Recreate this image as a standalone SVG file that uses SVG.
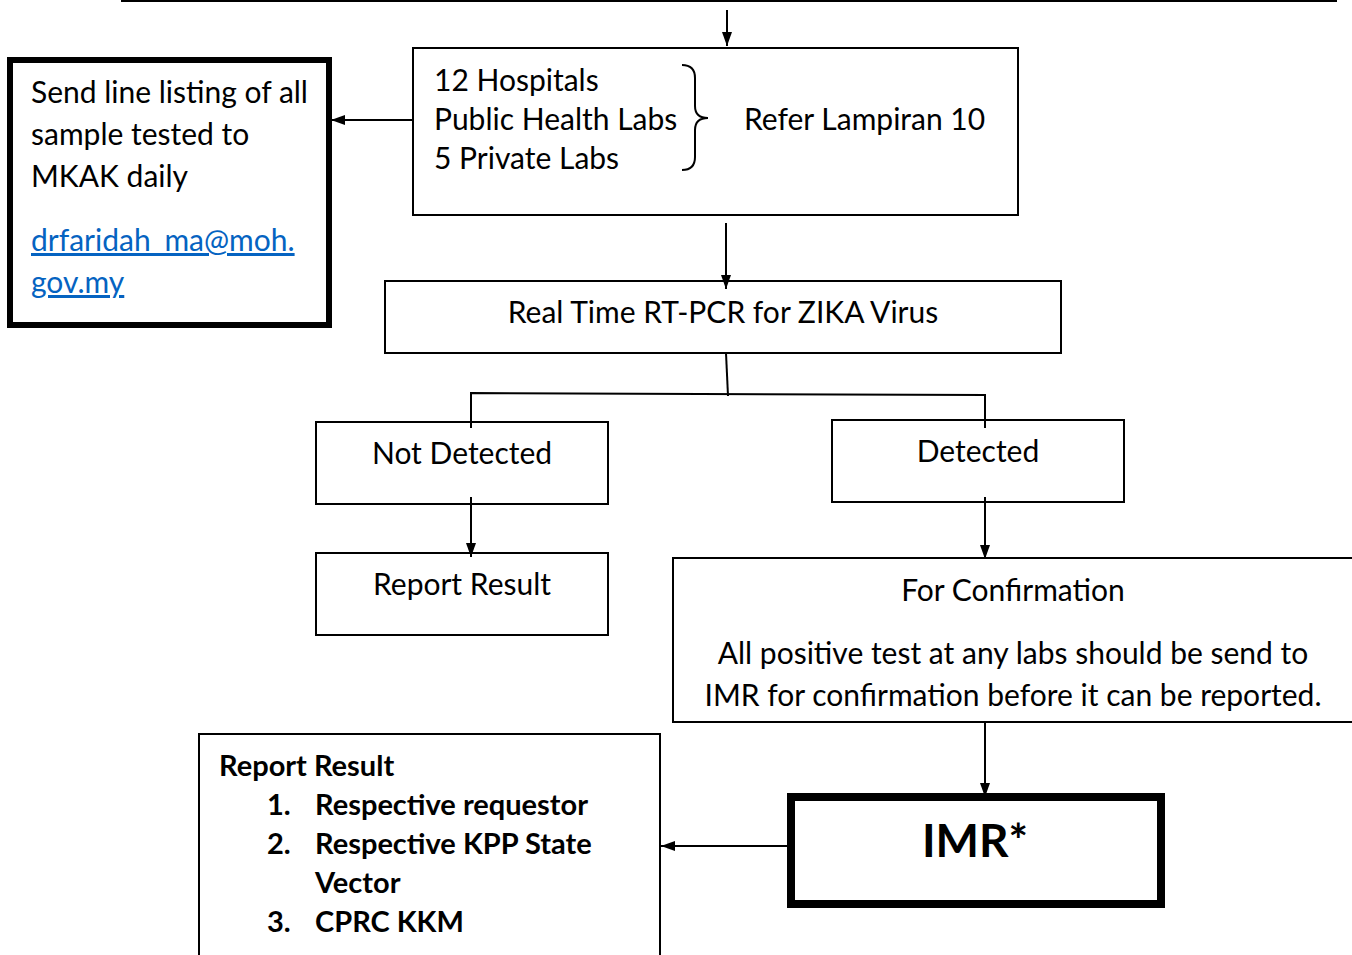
<svg xmlns="http://www.w3.org/2000/svg" width="1352" height="955" viewBox="0 0 1352 955">
<defs>
<marker id="ah" viewBox="0 0 14 10" refX="14" refY="5" markerWidth="14" markerHeight="11" markerUnits="userSpaceOnUse" orient="auto">
<path d="M0,0 L14,5 L0,10 Z" fill="#000"/>
</marker>
<style>
.box{fill:#fff;stroke:#000;stroke-width:2}
.thick{fill:#fff;stroke:#000;stroke-width:7}
.t{font-family:Lato,"Liberation Sans",sans-serif;font-size:30px;fill:#000}
.b{font-family:Lato,"Liberation Sans",sans-serif;font-size:29px;font-weight:bold;fill:#000}
.link{font-family:Lato,"Liberation Sans",sans-serif;font-size:30px;fill:#0563C1;text-decoration:underline}
.c{text-anchor:middle}
.ln{fill:none;stroke:#000;stroke-width:2}
</style>
</defs>
<g id="top">
<rect class="box" x="122" y="-10" width="1214" height="11"/>
</g>
<g id="labs">
<rect class="box" x="413" y="48" width="605" height="167"/>
<text class="t" x="434" y="91">12 Hospitals</text>
<text class="t" x="434" y="130">Public Health Labs</text>
<text class="t" x="434" y="169">5 Private Labs</text>
<path class="ln" d="M682,65 Q695,65 695,78 L695,106 Q695,118 708,118 Q695,118 695,130 L695,157 Q695,170 682,170"/>
<text class="t" x="744" y="130">Refer Lampiran 10</text>
</g>
<g id="send">
<rect class="thick" x="10" y="60" width="319" height="265" style="stroke-width:6"/>
<text class="t" x="31" y="103">Send line listing of all</text>
<text class="t" x="31" y="145">sample tested to</text>
<text class="t" x="31" y="187">MKAK daily</text>
<text class="link" x="31" y="251">drfaridah_ma@moh.</text>
<text class="link" x="31" y="293">gov.my</text>
</g>
<g id="pcr">
<rect class="box" x="385" y="281" width="676" height="72"/>
<text class="t c" x="723" y="323">Real Time RT-PCR for ZIKA Virus</text>
</g>
<g id="notdetected">
<rect class="box" x="316" y="422" width="292" height="82"/>
<text class="t c" x="462" y="464">Not Detected</text>
</g>
<g id="detected">
<rect class="box" x="832" y="420" width="292" height="82"/>
<text class="t c" x="978" y="462">Detected</text>
</g>
<g id="report1">
<rect class="box" x="316" y="553" width="292" height="82"/>
<text class="t c" x="462" y="595">Report Result</text>
</g>
<g id="confirm">
<rect class="box" x="673" y="558" width="690" height="164"/>
<text class="t c" x="1013" y="601">For Confirmation</text>
<text class="t c" x="1013" y="664">All positive test at any labs should be send to</text>
<text class="t c" x="1013" y="706">IMR for confirmation before it can be reported.</text>
</g>
<g id="imr">
<rect class="thick" x="791" y="797" width="370" height="107" style="stroke-width:8"/>
<text class="b c" x="975" y="857" style="font-size:46px">IMR*</text>
</g>
<g id="report2">
<rect class="box" x="199" y="734" width="461" height="240"/>
<text class="b" x="219" y="776">Report Result</text>
<text class="b" x="267" y="815">1.</text>
<text class="b" x="315" y="815">Respective requestor</text>
<text class="b" x="267" y="854">2.</text>
<text class="b" x="315" y="854">Respective KPP State</text>
<text class="b" x="315" y="893">Vector</text>
<text class="b" x="267" y="932">3.</text>
<text class="b" x="315" y="932">CPRC KKM</text>
</g>
<g id="connectors">
<line class="ln" x1="727" y1="10" x2="727" y2="46" marker-end="url(#ah)"/>
<line class="ln" x1="413" y1="120" x2="331" y2="120" marker-end="url(#ah)"/>
<line class="ln" x1="726" y1="223" x2="726" y2="289" marker-end="url(#ah)"/>
<path class="ln" d="M726,353 L728,396"/>
<path class="ln" d="M471,428 L471,393 L985,395 L985,428"/>
<line class="ln" x1="471" y1="497" x2="471" y2="557" marker-end="url(#ah)"/>
<line class="ln" x1="985" y1="497" x2="985" y2="559" marker-end="url(#ah)"/>
<line class="ln" x1="985" y1="722" x2="985" y2="797" marker-end="url(#ah)"/>
<line class="ln" x1="790" y1="846" x2="661" y2="846" marker-end="url(#ah)"/>
</g>
</svg>
